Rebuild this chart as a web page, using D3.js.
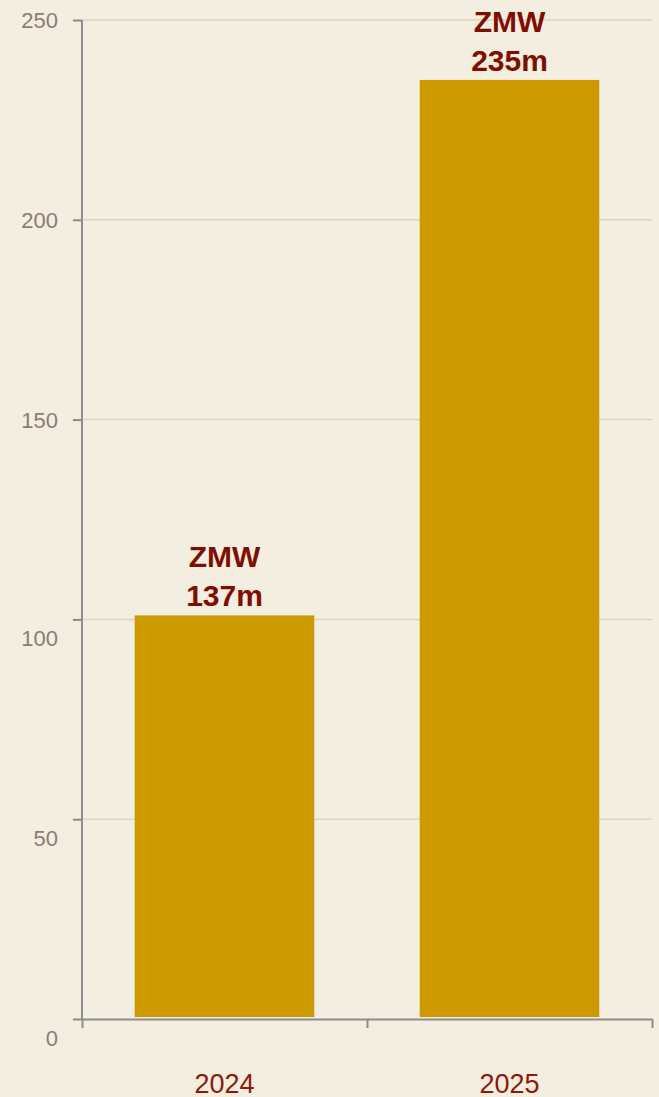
<!DOCTYPE html>
<html lang="en">
<head>
<meta charset="UTF-8">
<title>ZMW 2024 vs 2025</title>
<script src="https://cdnjs.cloudflare.com/ajax/libs/d3/7.8.5/d3.min.js"></script>
<style>
  html, body { margin: 0; padding: 0; background: #f3eee0; }
  svg { display: block; font-family: "Liberation Sans", Arial, sans-serif; }
  .y-axis text { fill: #8c7d70; font-size: 22px; }
  .x-label { fill: #8b1a0a; font-size: 27px; }
  .value-label { fill: #7f0e00; font-size: 30px; font-weight: bold; }
</style>
</head>
<body>
<div id="chart"></div>
<script>
const years = ["2024", "2025"];
const barValues = [101, 235];
const valueLabels = [["ZMW", "137m"], ["ZMW", "235m"]];
const yTicks = [0, 50, 100, 150, 200, 250];

const width = 659, height = 1097;
const margin = { top: 20, right: 7, bottom: 78, left: 82 };

const svg = d3.select("#chart").append("svg")
  .attr("width", width)
  .attr("height", height);

const y = d3.scaleLinear().domain([0, 250]).range([height - margin.bottom, margin.top]);
const x = d3.scaleBand().domain(years).range([margin.left, width - margin.right])
  .paddingInner(0.37).paddingOuter(0.185);
const xEdge = d3.scaleLinear().domain([0, years.length]).range([margin.left, width - margin.right]);

// grid
svg.append("g")
  .selectAll("line")
  .data(yTicks.filter(d => d > 0))
  .join("line")
  .attr("x1", margin.left)
  .attr("x2", width - margin.right)
  .attr("y1", d => y(d))
  .attr("y2", d => y(d))
  .attr("stroke", "#dcd4c2")
  .attr("stroke-width", 1.5);

// bars
svg.append("g")
  .selectAll("rect")
  .data(barValues)
  .join("rect")
  .attr("x", (d, i) => x(years[i]))
  .attr("width", x.bandwidth())
  .attr("y", d => y(d))
  .attr("height", d => y(0) - y(d) - 2)
  .attr("fill", "#cc9900");

// value labels
const vl = svg.append("g")
  .selectAll("text")
  .data(barValues)
  .join("text")
  .attr("class", "value-label")
  .attr("text-anchor", "middle")
  .attr("x", (d, i) => x(years[i]) + x.bandwidth() / 2);
vl.append("tspan")
  .attr("x", (d, i) => x(years[i]) + x.bandwidth() / 2)
  .attr("y", d => y(d) - 48)
  .text((d, i) => valueLabels[i][0]);
vl.append("tspan")
  .attr("x", (d, i) => x(years[i]) + x.bandwidth() / 2)
  .attr("y", d => y(d) - 9)
  .text((d, i) => valueLabels[i][1]);

// y axis
const yAxis = svg.append("g")
  .attr("class", "y-axis")
  .attr("transform", `translate(${margin.left},0)`)
  .call(d3.axisLeft(y).tickValues(yTicks).tickSize(9).tickPadding(15));
yAxis.selectAll("path, line").attr("stroke", "#8c8c8c").attr("stroke-width", 2);
yAxis.select(".domain").remove();
yAxis.append("line")
  .attr("x1", 0).attr("x2", 0)
  .attr("y1", y(250)).attr("y2", y(0))
  .attr("stroke", "#8c8c8c").attr("stroke-width", 2);
yAxis.selectAll("text")
  .attr("dy", d => d <= 100 ? "1.2em" : "0.35em");

// x axis (ticks at band edges)
const xAxis = svg.append("g")
  .attr("transform", `translate(0,${y(0)})`)
  .call(d3.axisBottom(xEdge).tickValues(d3.range(years.length + 1)).tickSize(9).tickSizeOuter(0).tickFormat(""));
xAxis.selectAll("path, line").attr("stroke", "#8c8c8c").attr("stroke-width", 2);

svg.append("g")
  .selectAll("text")
  .data(years)
  .join("text")
  .attr("class", "x-label")
  .attr("text-anchor", "middle")
  .attr("x", d => x(d) + x.bandwidth() / 2)
  .attr("y", y(0) + 74)
  .text(d => d);
</script>
</body>
</html>
